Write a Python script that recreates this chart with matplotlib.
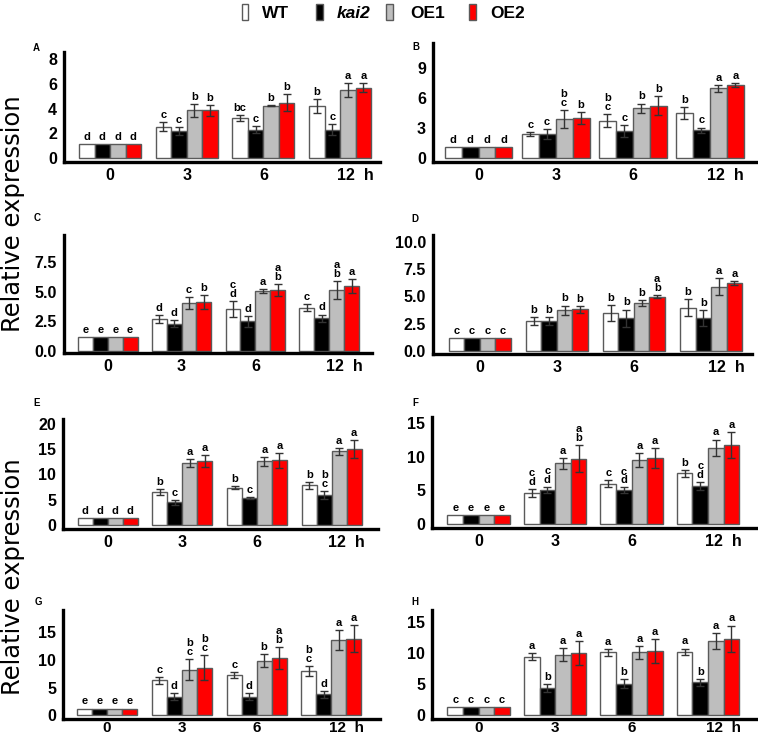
import matplotlib
matplotlib.use('Agg')
import matplotlib.pyplot as plt
from matplotlib.patches import Rectangle

W, H = 758, 739

genotypes = ['WT', 'kai2', 'OE1', 'OE2']
colors = ['white', 'black', '#bebebe', '#ff0000']
time_labels = ['0', '3', '6', '12  h']

# rows: WT, kai2, OE1, OE2 ; columns: 0, 3, 6, 12 h
A_mean = [[1.1, 2.53, 3.26, 4.23], [1.1, 2.2, 2.3, 2.3], [1.1, 3.85, 4.23, 5.5], [1.1, 3.85, 4.47, 5.7]]
A_err = [[0, 0.35, 0.25, 0.55], [0, 0.3, 0.3, 0.45], [0, 0.55, 0.05, 0.55], [0, 0.45, 0.7, 0.35]]
A_sig = [['d', 'c', 'bc', 'b'], ['d', 'c', 'c', 'c'], ['d', 'b', 'b', 'a'], ['d', 'b', 'b', 'a']]

B_mean = [[1.1, 2.42, 3.76, 4.5], [1.1, 2.42, 2.72, 2.79], [1.1, 3.93, 5.0, 7.0], [1.1, 4.03, 5.27, 7.32]]
B_err = [[0, 0.17, 0.64, 0.6], [0, 0.5, 0.57, 0.27], [0, 0.87, 0.47, 0.37], [0, 0.6, 0.97, 0.17]]
B_sig = [['d', 'c', 'b\nc', 'b'], ['d', 'c', 'c', 'c'], ['d', 'b\nc', 'b', 'a'], ['d', 'b', 'b', 'a']]

C_mean = [[1.15, 2.7, 3.54, 3.65], [1.15, 2.3, 2.5, 2.75], [1.15, 4.07, 5.08, 5.16], [1.15, 4.13, 5.16, 5.48]]
C_err = [[0, 0.36, 0.7, 0.3], [0, 0.3, 0.45, 0.33], [0, 0.5, 0.17, 0.73], [0, 0.6, 0.53, 0.6]]
C_sig = [['e', 'd', 'c\nd', 'c'], ['e', 'd', 'd', 'd'], ['e', 'c', 'a', 'a\nb'], ['e', 'b', 'a\nb', 'a']]

D_mean = [[1.19, 2.76, 3.49, 3.98], [1.19, 2.76, 3.0, 3.0], [1.19, 3.74, 4.38, 5.9], [1.19, 3.83, 4.98, 6.2]]
D_err = [[0, 0.33, 0.76, 0.76], [0, 0.33, 0.8, 0.73], [0, 0.43, 0.25, 0.76], [0, 0.33, 0.12, 0.2]]
D_sig = [['c', 'b', 'b', 'b'], ['c', 'b', 'b', 'b'], ['c', 'b', 'b', 'a'], ['c', 'b', 'a\nb', 'a']]

E_mean = [[1.3, 6.45, 7.37, 7.83], [1.3, 4.47, 5.33, 5.92], [1.3, 12.2, 12.57, 14.5], [1.3, 12.6, 12.77, 15.0]]
E_err = [[0, 0.6, 0.33, 0.72], [0, 0.53, 0.2, 0.8], [0, 0.85, 0.85, 0.72], [0, 1.18, 1.44, 1.84]]
E_sig = [['d', 'b', 'b', 'b'], ['d', 'c', 'c', 'b\nc'], ['d', 'a', 'a', 'a'], ['d', 'a', 'a', 'a']]

F_mean = [[1.24, 4.57, 5.96, 7.5], [1.24, 5.02, 5.0, 5.57], [1.24, 9.0, 9.54, 11.3], [1.24, 9.7, 9.78, 11.7]]
F_err = [[0, 0.55, 0.5, 0.55], [0, 0.45, 0.4, 0.6], [0, 0.8, 1.04, 1.24], [0, 2.0, 1.5, 1.94]]
F_sig = [['e', 'c\nd', 'c', 'b'], ['e', 'c\nd', 'c\nd', 'c\nd'], ['e', 'a', 'a', 'a'], ['e', 'a\nb', 'a', 'a']]

G_mean = [[1.25, 6.37, 7.38, 8.1], [1.25, 3.4, 3.4, 3.8], [1.25, 8.3, 9.9, 13.6], [1.25, 8.6, 10.35, 13.9]]
G_err = [[0, 0.65, 0.54, 0.9], [0, 0.6, 0.6, 0.6], [0, 1.9, 1.13, 1.8], [0, 2.26, 1.96, 2.4]]
G_sig = [['e', 'c', 'c', 'b\nc'], ['e', 'd', 'd', 'd'], ['e', 'b\nc', 'b', 'a'], ['e', 'b\nc', 'a\nb', 'a']]

H_mean = [[1.22, 9.38, 10.06, 10.13], [1.22, 4.35, 5.04, 5.25], [1.22, 9.7, 10.06, 11.88], [1.22, 9.9, 10.3, 12.24]]
H_err = [[0, 0.58, 0.53, 0.53], [0, 0.58, 0.74, 0.58], [0, 1.06, 1.0, 1.33], [0, 1.9, 1.96, 2.12]]
H_sig = [['c', 'a', 'a', 'a'], ['c', 'b', 'b', 'b'], ['c', 'a', 'a', 'a'], ['c', 'a', 'a', 'a']]

# panel boxes in pixels: left, right, top, bottom (x axis line)
layout = {
    'A': dict(box=(64, 380, 52, 162), xlim=(-0.60, 3.52), ylim=(-0.32, 8.57), yt=[0, 2, 4, 6, 8], fmt='{:g}', bw=0.202, lab=(36, 48)),
    'B': dict(box=(433, 757, 43, 162), xlim=(-0.59, 3.61), ylim=(-0.40, 11.55), yt=[0, 3, 6, 9], fmt='{:g}', bw=0.22, lab=(416, 47)),
    'C': dict(box=(64, 372, 235, 353), xlim=(-0.593, 3.58), ylim=(-0.17, 9.8), yt=[0, 2.5, 5, 7.5], fmt='{:.1f}', bw=0.202, lab=(37, 218)),
    'D': dict(box=(433, 752, 235, 354), xlim=(-0.605, 3.53), ylim=(-0.25, 10.6), yt=[0, 2.5, 5, 7.5, 10], fmt='{:.1f}', bw=0.201, lab=(415, 219)),
    'E': dict(box=(63, 378, 419, 529), xlim=(-0.598, 3.62), ylim=(-0.79, 20.9), yt=[0, 5, 10, 15, 20], fmt='{:g}', bw=0.2, lab=(37, 403)),
    'F': dict(box=(432, 757, 417, 528), xlim=(-0.61, 3.64), ylim=(-0.64, 15.9), yt=[0, 5, 10, 15], fmt='{:g}', bw=0.204, lab=(415, 403)),
    'G': dict(box=(63, 380, 610, 719), xlim=(-0.59, 3.65), ylim=(-0.64, 19.05), yt=[0, 5, 10, 15], fmt='{:g}', bw=0.2, lab=(38, 602)),
    'H': dict(box=(432, 757, 610, 719), xlim=(-0.61, 3.64), ylim=(-0.64, 16.85), yt=[0, 5, 10, 15], fmt='{:g}', bw=0.204, lab=(415, 602)),
}

panels = {
    'A': (A_mean, A_err, A_sig), 'B': (B_mean, B_err, B_sig),
    'C': (C_mean, C_err, C_sig), 'D': (D_mean, D_err, D_sig),
    'E': (E_mean, E_err, E_sig), 'F': (F_mean, F_err, F_sig),
    'G': (G_mean, G_err, G_sig), 'H': (H_mean, H_err, H_sig),
}

plt.rcParams['font.family'] = ['Liberation Sans', 'DejaVu Sans']
plt.rcParams['font.weight'] = 'bold'

fig = plt.figure(figsize=(W / 100, H / 100), dpi=100)


def draw_panel(name):
    mean, err, sig = panels[name]
    lay = layout[name]
    l, r, t, b = lay['box']
    ax = fig.add_axes([l / W, 1 - b / H, (r - l) / W, (b - t) / H])
    bw = lay['bw']
    for g in range(4):
        xs = [i + (g - 1.5) * bw for i in range(4)]
        ax.bar(xs, mean[g], width=bw, color=colors[g], edgecolor='#5a5a5a', linewidth=1.0, zorder=2)
        for x, m, e, s in zip(xs, mean[g], err[g], sig[g]):
            if e > 0:
                ax.errorbar(x, m, yerr=e, fmt='none', ecolor='#333333', elinewidth=1.0,
                            capsize=3.2, capthick=1.0, zorder=3)
            ax.annotate(s, (x, m + e), xytext=(0, 1.5), textcoords='offset points',
                        ha='center', va='bottom', fontsize=8, fontweight='bold',
                        linespacing=0.85)
    ax.set_xlim(*lay['xlim'])
    ax.set_ylim(*lay['ylim'])
    ax.set_yticks(lay['yt'])
    ax.set_yticklabels([lay['fmt'].format(v) for v in lay['yt']])
    ax.set_xticks([0, 1, 2, 3.2])
    ax.set_xticklabels(time_labels)
    ax.tick_params(axis='both', length=0, labelsize=11.5)
    ax.tick_params(axis='y', pad=5)
    ax.tick_params(axis='x', pad=1.5 if name in 'GH' else 4, labelsize=11 if name in 'GH' else 11.5)
    for lbl in ax.get_xticklabels() + ax.get_yticklabels():
        lbl.set_fontweight('bold')
    for sp in ['top', 'right']:
        ax.spines[sp].set_visible(False)
    for sp in ['left', 'bottom']:
        ax.spines[sp].set_linewidth(2.4)
    ax.patch.set_alpha(0)
    fig.text(lay['lab'][0] / W, 1 - lay['lab'][1] / H, name, fontsize=7,
             fontweight='bold', ha='center', va='center')


for name in panels:
    draw_panel(name)

# shared y labels
for yc in [214, 577]:
    fig.text(1 / W, 1 - yc / H, 'Relative expression', rotation=90, ha='left', va='center',
             fontsize=17.5, fontweight='normal', family='DejaVu Sans')

# legend along the top
leg_patch_x = [241.5, 316, 386.5, 469]
leg_text_x = [261.5, 336.5, 410, 490]
for px, tx, g, c in zip(leg_patch_x, leg_text_x, genotypes, colors):
    fig.add_artist(Rectangle((px / W, 1 - 20 / H), 6.5 / W, 16.5 / H, transform=fig.transFigure,
                             facecolor=c, edgecolor='#5a5a5a', linewidth=1.0))
    fig.text(tx / W, 1 - 17.5 / H, g, fontsize=12.5, fontweight='bold', ha='left', va='baseline',
             style='italic' if g == 'kai2' else 'normal')

fig.savefig('out.png', dpi=100)
